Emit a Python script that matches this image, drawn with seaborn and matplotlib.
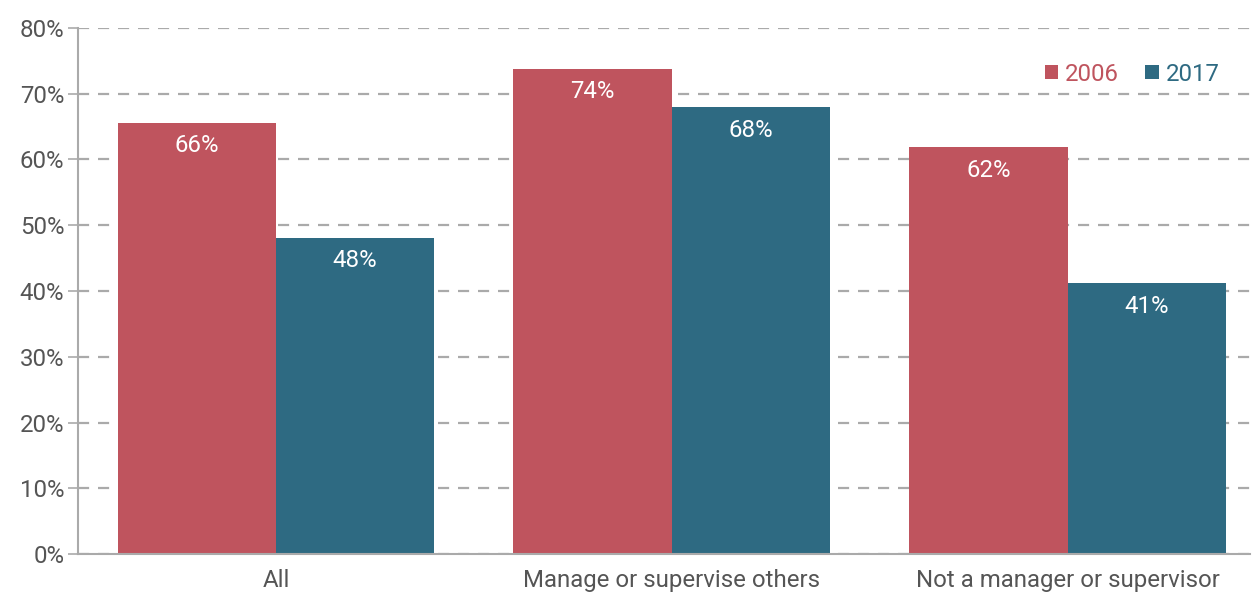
import matplotlib
matplotlib.use("Agg")
import matplotlib.pyplot as plt
import seaborn as sns
import pandas as pd
from matplotlib.patches import Patch

categories = ["All", "Manage or supervise others", "Not a manager or supervisor"]
years = ["2006", "2017"]
values_2006 = [65.6, 73.8, 61.9]
values_2017 = [48.1, 68.0, 41.2]
labels_2006 = ["66%", "74%", "62%"]
labels_2017 = ["48%", "68%", "41%"]
yticks = [0, 10, 20, 30, 40, 50, 60, 70, 80]

colors = {"2006": "#BF545E", "2017": "#2E6A82"}

df = pd.DataFrame({
    "category": categories * 2,
    "year": ["2006"] * 3 + ["2017"] * 3,
    "value": values_2006 + values_2017,
})

sns.set_theme(style="white")
plt.rcParams["font.family"] = ["Roboto", "DejaVu Sans"]

FS = 17.3

fig = plt.figure(figsize=(12.53, 5.94), dpi=100)
ax = fig.add_axes([0.0623, 0.0673, 0.935, 0.8856])

sns.barplot(data=df, x="category", y="value", hue="year", palette=colors,
            order=categories, hue_order=years, width=0.8, ax=ax,
            saturation=1, legend=False, linewidth=0)

ax.set_ylim(0, 80)
ax.set_xlim(-0.5, 2.46)
ax.set_yticks(yticks)
ax.set_yticklabels([f"{t}%" for t in yticks], fontsize=FS, color="#555555")
ax.tick_params(axis="x", labelsize=FS, colors="#555555", length=0, pad=11)
ax.tick_params(axis="y", length=7, width=1.2, color="#aaaaaa", pad=3, left=True)
ax.set_xlabel("")
ax.set_ylabel("")

ax.yaxis.grid(True, linestyle=(0, (5, 4)), color="#aaaaaa", linewidth=1.6)
ax.set_axisbelow(True)
for s in ["top", "right"]:
    ax.spines[s].set_visible(False)
for s in ["left", "bottom"]:
    ax.spines[s].set_color("#aaaaaa")
    ax.spines[s].set_linewidth(1.5)

for cont, labs in zip(ax.containers, [labels_2006, labels_2017]):
    ax.bar_label(cont, labels=labs, label_type="edge", padding=-25,
                 color="white", fontsize=FS)

handles = [Patch(facecolor=colors[y], edgecolor="none") for y in years]
leg = ax.legend(handles, years, loc="upper right", bbox_to_anchor=(0.993, 0.975),
                ncol=2, frameon=False, fontsize=FS, handlelength=0.55,
                handleheight=0.55, handletextpad=0.3, columnspacing=1.1)
for t, y in zip(leg.get_texts(), years):
    t.set_color(colors[y])

fig.savefig("out.png", dpi=100)
